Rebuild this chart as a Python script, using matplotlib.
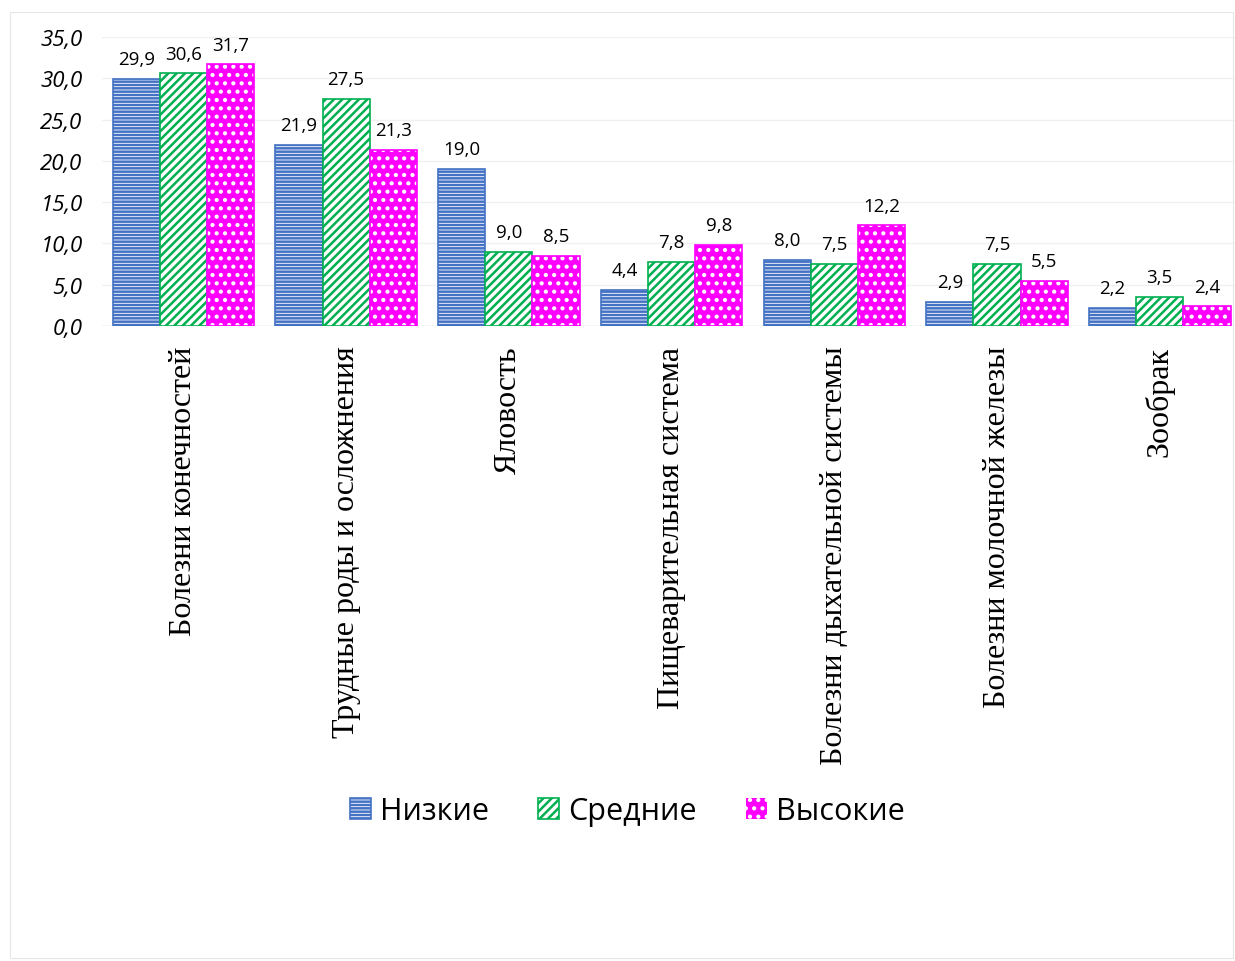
import numpy as np
import matplotlib
matplotlib.use("Agg")
from matplotlib import pyplot as plt
from matplotlib.patches import Rectangle

categories = ["Болезни конечностей", "Трудные роды и осложнения", "Яловость",
              "Пищеварительная система", "Болезни дыхательной системы",
              "Болезни молочной железы", "Зообрак"]
low = [29.9, 21.9, 19.0, 4.4, 8.0, 2.9, 2.2]
mid = [30.6, 27.5, 9.0, 7.8, 7.5, 7.5, 3.5]
high = [31.7, 21.3, 8.5, 9.8, 12.2, 5.5, 2.4]
series_names = ["Низкие", "Средние", "Высокие"]

fig = plt.figure(figsize=(12.35, 9.62), dpi=100)
fig.patches.append(Rectangle((0.008, 0.003), 0.99, 0.983, transform=fig.transFigure,
                             fill=False, edgecolor="#e6e6e6", linewidth=0.8))
ax = fig.add_axes([0.0826, 0.660, 0.9224, 0.3005])

x = np.arange(len(categories))
w = 0.29
plt.rcParams['hatch.linewidth'] = 1.8

b1 = ax.bar(x - w, low, w, facecolor="white", edgecolor="#4472C4", hatch="-----",
            linewidth=1.2, zorder=3, label=series_names[0])
b2 = ax.bar(x, mid, w, facecolor="white", edgecolor="#00B050", hatch="////",
            linewidth=1.2, zorder=3, label=series_names[1])
b3 = ax.bar(x + w, high, w, facecolor="#FF00FF", edgecolor="white", hatch="..",
            linewidth=0, zorder=3, label=series_names[2])
ax.bar(x + w, high, w, facecolor="none", edgecolor="#FF00FF", linewidth=1.2, zorder=4)

for bars, vals in [(b1, low), (b2, mid), (b3, high)]:
    for rect, v in zip(bars, vals):
        ax.text(rect.get_x() + rect.get_width() / 2, v + 1.3, f"{v:.1f}".replace(".", ","),
                ha="center", va="bottom", fontsize=13.5, family="Open Sans")

ax.set_ylim(0, 35)
ax.set_xlim(-0.5, len(categories) - 0.5)
ax.set_yticks(np.arange(0, 36, 5))
ax.set_yticklabels([f"{t:.1f}".replace(".", ",") for t in np.arange(0, 36, 5)],
                   fontsize=16, style="italic", family="Open Sans")
ax.set_xticks(x)
ax.set_xticklabels(categories, rotation=90, fontsize=23, family="Liberation Serif",
                   va="top")
ax.tick_params(axis="both", length=0)
ax.tick_params(axis="y", pad=14)
ax.tick_params(axis="x", pad=14)
ax.grid(axis="y", color="#f0f0f0", linewidth=1, zorder=0)
for s in ax.spines.values():
    s.set_visible(False)
ax.axhline(0, color="#d9d9d9", linewidth=1, zorder=2)

leg = fig.legend(handles=[b1, b2, b3], labels=series_names, loc="center",
                 bbox_to_anchor=(0.508, 0.156), ncol=3, frameon=False,
                 prop={"family": "Open Sans", "size": 22}, handlelength=0.7,
                 handleheight=0.7, columnspacing=1.6, handletextpad=0.3)

fig.savefig("out.png", dpi=100)
